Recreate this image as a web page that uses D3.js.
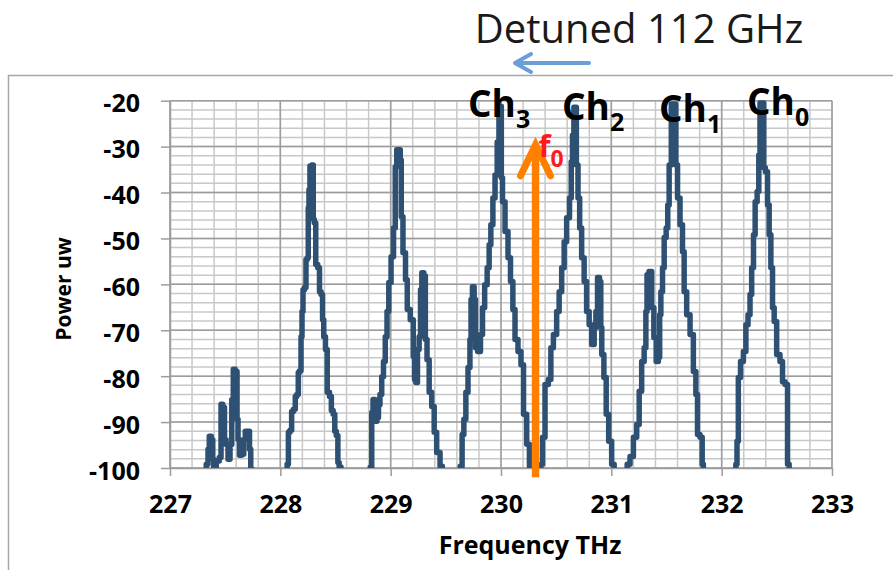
<!DOCTYPE html>
<html>
<head>
<meta charset="utf-8">
<script src="https://cdn.jsdelivr.net/npm/d3@7"></script>
<style>
  body { margin: 0; background: #fff; }
  text { font-family: "Open Sans", sans-serif; }
</style>
</head>
<body>
<script>
const width = 893;
const height = 570;

// spectrum, one point per corner of the trace
const freqTHz = [
  227.317, 227.340, 227.349, 227.363, 227.385, 227.390, 227.403, 227.435, 227.458, 227.467,
  227.489, 227.499, 227.517, 227.535, 227.553, 227.567, 227.580, 227.603, 227.612, 227.621,
  227.639, 227.662, 227.675, 227.689, 227.716, 227.725, 227.739, 227.752,
  228.051, 228.072, 228.074, 228.101, 228.104, 228.133, 228.138, 228.160, 228.165, 228.183,
  228.192, 228.201, 228.210, 228.228, 228.237, 228.251, 228.255, 228.264, 228.273, 228.296,
  228.301, 228.314, 228.328, 228.350, 228.360, 228.378, 228.387, 228.400, 228.418, 228.432,
  228.459, 228.466, 228.491, 228.496, 228.518, 228.525, 228.541, 228.559,
  228.804, 228.826, 228.831, 228.849, 228.867, 228.885, 228.894, 228.912, 228.926, 228.944,
  228.958, 228.976, 228.990, 229.017, 229.035, 229.048, 229.062, 229.080, 229.094, 229.098,
  229.125, 229.144, 229.157, 229.198, 229.211, 229.221, 229.236, 229.250, 229.266, 229.275,
  229.290, 229.311, 229.318, 229.341, 229.357, 229.387, 229.402, 229.432, 229.463, 229.474,
  229.619, 229.642, 229.653, 229.674, 229.689, 229.713, 229.724, 229.733, 229.749, 229.764,
  229.774, 229.803, 229.825, 229.840, 229.864, 229.885, 229.900, 229.916, 229.937, 229.955,
  229.976, 229.987, 230.000, 230.006, 230.021, 230.052, 230.075, 230.097, 230.118, 230.136,
  230.172, 230.190, 230.218, 230.248, 230.267, 230.281,
  230.354, 230.369, 230.384, 230.414, 230.444, 230.460, 230.490, 230.519, 230.535, 230.565,
  230.580, 230.610, 230.632, 230.641, 230.655, 230.666, 230.680, 230.686, 230.710, 230.716,
  230.746, 230.761, 230.791, 230.807, 230.837, 230.852, 230.868, 230.882, 230.904, 230.905,
  230.922, 230.943, 230.964, 230.988, 231.018, 231.033,
  231.133, 231.154, 231.185, 231.215, 231.245, 231.260, 231.290, 231.305, 231.321, 231.326,
  231.357, 231.375, 231.396, 231.417, 231.435, 231.441, 231.457, 231.471, 231.487, 231.507,
  231.516, 231.532, 231.555, 231.577, 231.593, 231.607, 231.638, 231.652, 231.668, 231.698,
  231.729, 231.758, 231.774, 231.788, 231.819, 231.828, 231.840,
  232.121, 232.136, 232.142, 232.160, 232.182, 232.212, 232.227, 232.251, 232.263, 232.281,
  232.296, 232.311, 232.332, 232.341, 232.354, 232.378, 232.384, 232.408, 232.423, 232.438,
  232.454, 232.468, 232.484, 232.513, 232.544, 232.559, 232.590, 232.604, 232.619
];
const powerDb = [
  -104.6, -99.2, -95.9, -93.1, -93.8, -98.1, -100.3, -98.5, -97.7, -86.1,
  -86.8, -93.8, -94.9, -98.1, -94.9, -85.1, -78.5, -79.0, -89.4, -93.8,
  -97.2, -97.0, -93.8, -92.0, -92.0, -95.9, -100.3, -104.6,
  -104.6, -99.2, -92.2, -91.8, -87.7, -87.2, -84.4, -84.0, -79.2, -78.8,
  -71.4, -65.9, -61.2, -60.7, -54.6, -54.2, -43.3, -39.4, -34.2, -34.0,
  -45.9, -46.6, -55.7, -56.4, -61.6, -62.2, -67.7, -71.4, -74.2, -83.5,
  -84.4, -87.5, -88.3, -92.0, -92.9, -98.8, -99.8, -104.6,
  -104.6, -99.8, -87.9, -85.1, -89.8, -89.0, -86.2, -84.0, -80.1, -76.8,
  -71.4, -65.9, -59.6, -54.0, -47.7, -34.4, -30.7, -30.7, -32.9, -45.3,
  -53.1, -59.0, -65.5, -67.7, -75.7, -80.7, -81.4, -74.2, -71.4, -61.2,
  -57.5, -58.1, -72.0, -76.4, -83.5, -86.6, -92.2, -96.6, -99.6, -104.6,
  -104.6, -99.6, -92.7, -89.4, -83.5, -78.1, -72.0, -63.3, -60.5, -63.3,
  -73.8, -74.6, -70.9, -65.1, -60.1, -56.4, -51.4, -47.0, -41.2, -36.2,
  -29.0, -21.2, -21.2, -36.8, -42.0, -48.5, -54.2, -59.4, -65.5, -72.0,
  -74.6, -77.5, -88.3, -94.8, -99.6, -104.6,
  -104.6, -99.2, -93.3, -81.8, -80.7, -73.8, -70.9, -65.9, -61.6, -56.4,
  -50.7, -45.5, -41.2, -33.3, -27.5, -21.4, -21.4, -34.0, -41.2, -47.7,
  -54.2, -59.4, -65.9, -68.8, -73.1, -69.4, -65.9, -58.5, -59.4, -69.4,
  -75.3, -80.3, -88.3, -94.2, -99.2, -104.6,
  -104.6, -99.2, -97.5, -93.3, -90.5, -83.3, -76.8, -73.8, -65.9, -57.9,
  -57.2, -65.1, -71.6, -76.8, -75.9, -66.6, -61.6, -56.4, -49.8, -47.7,
  -42.7, -34.0, -20.7, -20.7, -34.0, -41.2, -47.0, -52.9, -61.6, -66.6,
  -70.9, -79.0, -84.0, -92.7, -93.3, -99.2, -104.6,
  -104.6, -99.2, -94.2, -80.3, -76.8, -74.6, -68.8, -66.6, -62.2, -56.4,
  -49.2, -42.0, -39.8, -31.8, -20.5, -20.5, -34.6, -35.5, -42.7, -49.2,
  -56.4, -65.1, -68.1, -75.3, -76.8, -81.2, -81.8, -99.2, -104.6
];

const xTicks = [227, 228, 229, 230, 231, 232, 233];
const yTicks = [-100, -90, -80, -70, -60, -50, -40, -30, -20];

const channelNames = ["3", "2", "1", "0"];
const channelLabelTHz = [229.701, 230.553, 231.432, 232.230];
const channelLabelDb = [-23.5, -24.2, -24.6, -23.1];

const f0THz = 230.313;
const f0TopDb = -29.6;
const f0BottomDb = -102.0;

let svg = d3.select("body")
  .append("svg")
    .attr("width", width)
    .attr("height", height);

let x = d3.scaleLinear().domain([227, 233]).range([170, 832]);
let y = d3.scaleLinear().domain([-100, -20]).range([468, 100.7]);

// chart frame (only the left and top edges show)
svg.append("path")
  .attr("d", "M8.5,575 V75.5 H900")
  .attr("fill", "none")
  .attr("stroke", "#a6a6a6")
  .attr("stroke-width", 1.5);

// title and the blue arrow under it
svg.append("text")
  .attr("x", 639)
  .attr("y", 43)
  .attr("text-anchor", "middle")
  .style("font-size", "40px")
  .attr("fill", "#1a1a1a")
  .text("Detuned 112 GHz");

svg.append("path")
  .attr("d", "M589,63 H516 M531,54 L515,63 L531,72")
  .attr("fill", "none")
  .attr("stroke", "#6a9ed6")
  .attr("stroke-width", 4)
  .attr("stroke-linecap", "round")
  .attr("stroke-linejoin", "round");

// grid
let minorX = d3.range(0, 31).map(i => 227 + i * 0.2);
let minorY = d3.range(0, 41).map(i => -100 + i * 2);
let grid = svg.append("g");

grid.selectAll(".mx").data(minorX).enter().append("line")
  .attr("x1", d => x(d)).attr("x2", d => x(d))
  .attr("y1", y(-20)).attr("y2", y(-100))
  .attr("stroke", "#c8c8c8").attr("stroke-width", 1.5);
grid.selectAll(".my").data(minorY).enter().append("line")
  .attr("x1", x(227)).attr("x2", x(233))
  .attr("y1", d => y(d)).attr("y2", d => y(d))
  .attr("stroke", "#c8c8c8").attr("stroke-width", 1.5);
grid.selectAll(".Mx").data(xTicks).enter().append("line")
  .attr("x1", d => x(d)).attr("x2", d => x(d))
  .attr("y1", y(-20)).attr("y2", y(-100))
  .attr("stroke", "#9c9c9c").attr("stroke-width", 1.5);
grid.selectAll(".My").data(yTicks).enter().append("line")
  .attr("x1", x(227)).attr("x2", x(233))
  .attr("y1", d => y(d)).attr("y2", d => y(d))
  .attr("stroke", "#9c9c9c").attr("stroke-width", 1.5);

// axes
let gx = svg.append("g")
  .attr("transform", "translate(0," + y(-100) + ")")
  .call(d3.axisBottom(x).tickValues(xTicks).tickSize(8).tickSizeOuter(0)
    .tickPadding(19).tickFormat(d => String(d)));

let gy = svg.append("g")
  .attr("transform", "translate(" + x(227) + ",0)")
  .call(d3.axisLeft(y).tickValues(yTicks).tickSize(9).tickSizeOuter(0)
    .tickPadding(21).tickFormat(d => String(d)));

[gx, gy].forEach(g => {
  g.select(".domain").attr("stroke", "#9c9c9c").attr("stroke-width", 1.5);
  g.selectAll(".tick line").attr("stroke", "#9c9c9c").attr("stroke-width", 1.5);
  g.selectAll(".tick text")
    .attr("fill", "#000")
    .style("font-family", "'Open Sans', sans-serif")
    .style("font-size", "25px")
    .style("font-weight", "bold");
});
gy.selectAll(".tick text").attr("dy", "0.45em");

svg.append("text")
  .attr("x", 530)
  .attr("y", 554)
  .attr("text-anchor", "middle")
  .style("font-size", "25px")
  .style("font-weight", "bold")
  .text("Frequency THz");

svg.append("text")
  .attr("transform", "translate(71,289) rotate(-90)")
  .attr("text-anchor", "middle")
  .style("font-size", "21px")
  .style("font-weight", "bold")
  .text("Power uw");

// spectrum
svg.append("clipPath")
  .attr("id", "plot-clip")
  .append("rect")
    .attr("x", x(227))
    .attr("y", 90)
    .attr("width", x(233) - x(227))
    .attr("height", y(-100) - 90);

let line = d3.line()
  .curve(d3.curveStep)
  .x((d, i) => x(freqTHz[i]))
  .y(d => y(d));

svg.append("path")
  .datum(powerDb)
  .attr("clip-path", "url(#plot-clip)")
  .attr("d", line)
  .attr("fill", "none")
  .attr("stroke", "#2d5073")
  .attr("stroke-width", 5.5)
  .attr("stroke-linejoin", "round");

// f0 marker
let fx = x(f0THz);
let fTop = y(f0TopDb);
svg.append("line")
  .attr("x1", fx).attr("x2", fx)
  .attr("y1", y(f0BottomDb)).attr("y2", fTop + 3)
  .attr("stroke", "#ff8000")
  .attr("stroke-width", 7.5);
svg.append("path")
  .attr("d", "M" + (fx - 15) + "," + (fTop + 31) + " L" + fx + "," + fTop + " L" + (fx + 15) + "," + (fTop + 31))
  .attr("fill", "none")
  .attr("stroke", "#ff8000")
  .attr("stroke-width", 7)
  .attr("stroke-linecap", "round")
  .attr("stroke-linejoin", "miter");

let f0Label = svg.append("text")
  .attr("x", fx + 3)
  .attr("y", fTop + 12)
  .attr("fill", "#ff1a1a")
  .style("font-weight", "bold");
f0Label.append("tspan").style("font-size", "31px").text("f");
f0Label.append("tspan").attr("dy", 10).style("font-size", "23px").text("0");

// channel labels
channelNames.forEach((c, i) => {
  let t = svg.append("text")
    .attr("x", x(channelLabelTHz[i]))
    .attr("y", y(channelLabelDb[i]))
    .attr("fill", "#000")
    .style("font-weight", "bold");
  t.append("tspan").style("font-size", "37px").text("Ch");
  t.append("tspan").attr("dy", 11).style("font-size", "25px").text(c);
});
</script>
</body>
</html>
